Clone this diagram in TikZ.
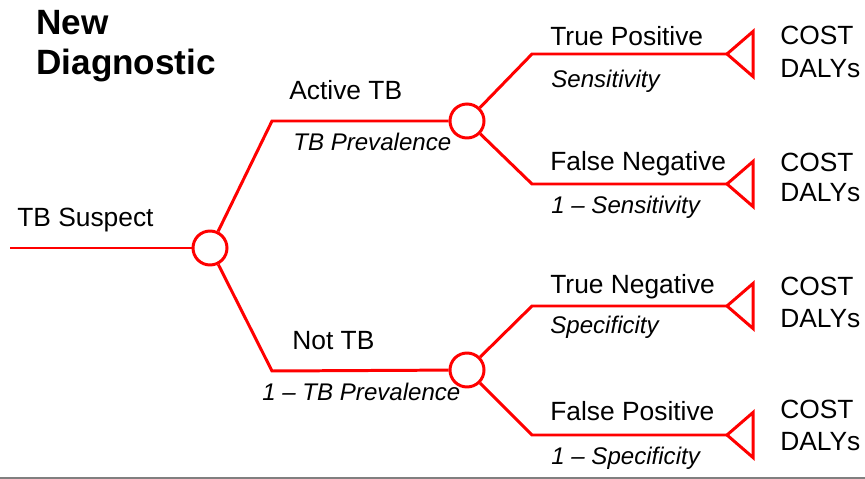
\documentclass[tikz,border=0pt]{standalone}
\usepackage{fontspec}
\setmainfont{Liberation Sans}
\usepackage{tikz}
\usetikzlibrary{shapes,arrows}

\begin{document}
\begin{tikzpicture}[x=0.02cm,y=-0.02cm]
\tikzstyle{every node}=[font=\fontsize{15}{18}\selectfont]
\tikzstyle{branch}=[draw=red, line width=1.7pt, line join=miter]
\tikzstyle{chance}=[circle, draw=red, line width=1.7pt, minimum size=0.68cm, inner sep=0pt]
\tikzstyle{lbl}=[anchor=base west, inner sep=0pt]
\tikzstyle{prob}=[anchor=base west, inner sep=0pt, font=\fontsize{13.7}{16}\selectfont\itshape]
\useasboundingbox (0,0) rectangle (865,479);
% title
\node [lbl, font=\fontsize{20}{23}\selectfont\bfseries] (ttl1) at (36,35) {New};
\node [lbl, font=\fontsize{20}{23}\selectfont\bfseries] (ttl2) at (36,75) {Diagnostic};
% chance nodes
\node [chance] (root) at (210,248) {};
\node [chance] (act) at (467,121) {};
\node [chance] (not) at (467,370) {};
\coordinate (start) at (10,248);
\coordinate (ca) at (272,121);
\coordinate (cn) at (272,371);
\coordinate (c1) at (532,54);
\coordinate (c2) at (532,184);
\coordinate (c3) at (532,306);
\coordinate (c4) at (532,435);
\coordinate (tp) at (727,54);
\coordinate (fn) at (727,184);
\coordinate (tn) at (727,306);
\coordinate (fp) at (727,435);
% branches
\draw [branch] (start) -- (root);
\draw [branch] (root) -- (ca) -- (act);
\draw [branch] (root) -- (cn) -- (not);
\draw [branch] (act) -- (c1) -- (tp);
\draw [branch] (act) -- (c2) -- (fn);
\draw [branch] (not) -- (c3) -- (tn);
\draw [branch] (not) -- (c4) -- (fp);
% terminal nodes
\draw [branch] (tp) -- ++(26,-22.5) -- ++(0,45) -- cycle;
\draw [branch] (fn) -- ++(26,-22.5) -- ++(0,45) -- cycle;
\draw [branch] (tn) -- ++(26,-22.5) -- ++(0,45) -- cycle;
\draw [branch] (fp) -- ++(26,-22.5) -- ++(0,45) -- cycle;
% labels
\node [lbl] (sus) at (17,227) {TB Suspect};
\node [lbl] (lact) at (289,100) {Active TB};
\node [prob] (pact) at (293,151) {TB Prevalence};
\node [lbl] (lnot) at (292,350) {Not TB};
\node [prob] (pnot) at (262,400) {1 – TB Prevalence};
\node [lbl] (ltp) at (550,46) {True Positive};
\node [prob] (ptp) at (551,88) {Sensitivity};
\node [lbl] (lfn) at (550,171) {False Negative};
\node [prob] (pfn) at (551,214) {1 – Sensitivity};
\node [lbl] (ltn) at (550,294) {True Negative};
\node [prob] (ptn) at (550,334) {Specificity};
\node [lbl] (lfp) at (550,420) {False Positive};
\node [prob] (pfp) at (551,464) {1 – Specificity};
\node [lbl] (o1a) at (780,45) {COST};
\node [lbl] (o1b) at (780,78) {DALYs};
\node [lbl] (o2a) at (780,172) {COST};
\node [lbl] (o2b) at (780,202) {DALYs};
\node [lbl] (o3a) at (780,296) {COST};
\node [lbl] (o3b) at (780,328) {DALYs};
\node [lbl] (o4a) at (780,418) {COST};
\node [lbl] (o4b) at (780,450) {DALYs};
\draw [gray, line width=0.8pt] (0,478) -- (865,478);
\end{tikzpicture}
\end{document}
